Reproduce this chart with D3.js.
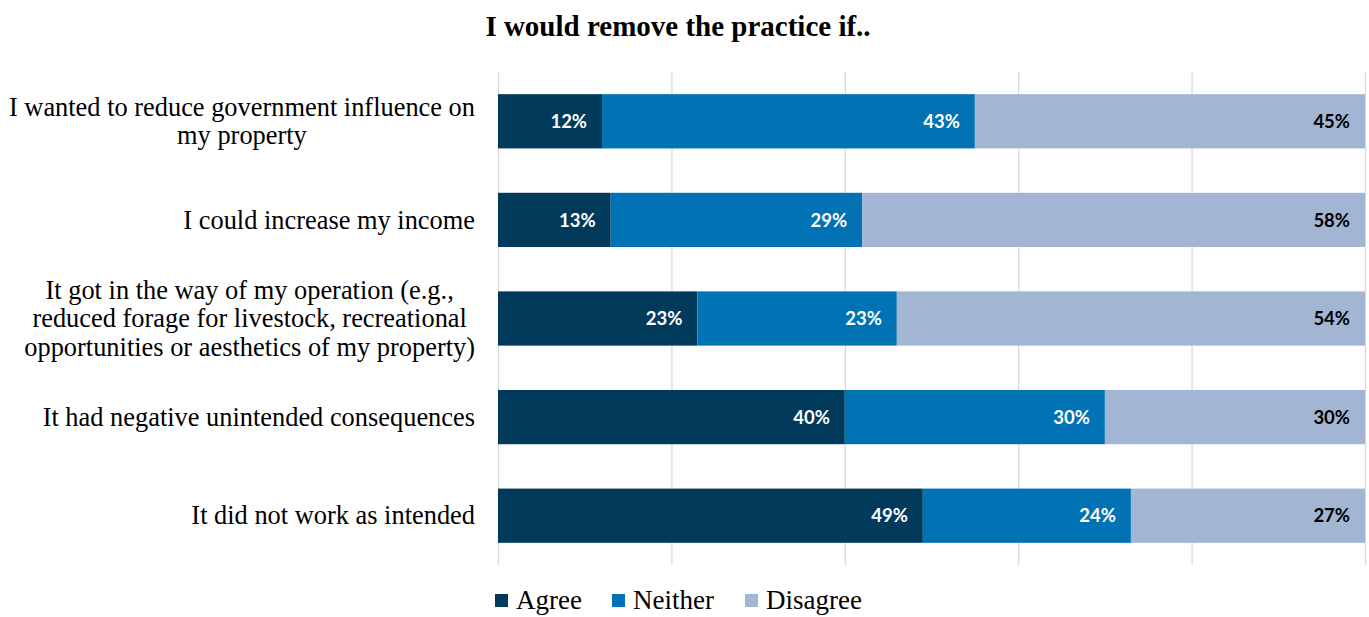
<!DOCTYPE html>
<html>
<head>
<meta charset="utf-8">
<script src="https://cdn.jsdelivr.net/npm/d3@7"></script>
<style>
  html, body { margin: 0; padding: 0; background: #fff; }
  svg { display: block; }
</style>
</head>
<body>
<svg id="chart" width="1369" height="617"></svg>
<script>
// Survey statements (each line of a label is one entry)
const categories = [
  ["I wanted to reduce government influence on", "my property"],
  ["I could increase my income"],
  ["It got in the way of my operation (e.g.,", "reduced forage for livestock, recreational", "opportunities or aesthetics of my property)"],
  ["It had negative unintended consequences"],
  ["It did not work as intended"]
];
const seriesNames = ["Agree", "Neither", "Disagree"];
const agree    = [12, 13, 23, 40, 49];
const neither  = [43, 29, 23, 30, 24];
const disagree = [45, 58, 54, 30, 27];
const xTicks = [0, 20, 40, 60, 80, 100];
const colors = ["#023A5C", "#0172B3", "#A2B6D4"];
const labelColors = ["#ffffff", "#ffffff", "#000000"];

const svg = d3.select("#chart");
const margin = { top: 72, right: 4, bottom: 52, left: 498 };
const W = 1369, H = 617;
const plotW = W - margin.left - margin.right;
const plotH = H - margin.top - margin.bottom;

const rows = categories.map((c, i) => ({
  key: i, lines: c, Agree: agree[i], Neither: neither[i], Disagree: disagree[i]
}));

const x = d3.scaleLinear().domain([0, 100]).range([0, plotW]);
const y = d3.scaleBand().domain(rows.map(d => d.key)).range([0, plotH])
  .paddingInner(0.45).paddingOuter(0.225);

const g = svg.append("g").attr("transform", `translate(${margin.left},${margin.top})`);

const serif = "'Liberation Serif', 'Times New Roman', serif";

// Title
svg.append("text")
  .attr("x", 678).attr("y", 36)
  .attr("text-anchor", "middle")
  .style("font-family", serif)
  .style("font-weight", "bold")
  .style("font-size", "29px")
  .text("I would remove the practice if..");

// Vertical gridlines
const xAxis = d3.axisBottom(x).tickValues(xTicks).tickSize(-plotH).tickFormat("");
const gx = g.append("g").attr("transform", `translate(0,${plotH})`).call(xAxis);
gx.select(".domain").remove();
gx.selectAll(".tick line").attr("stroke", "#d9d9d9").attr("stroke-width", 1.3);

// Stacked bars
const stack = d3.stack().keys(seriesNames);
const layers = stack(rows);

const layerG = g.selectAll(".layer").data(layers).enter().append("g")
  .attr("class", "layer")
  .attr("fill", (d, i) => colors[i]);

layerG.selectAll("rect").data(d => d).enter().append("rect")
  .attr("x", d => x(d[0]))
  .attr("y", d => y(d.data.key))
  .attr("width", d => x(d[1]) - x(d[0]))
  .attr("height", y.bandwidth());

// Value labels at the inner end of each segment
layerG.each(function(layer, li) {
  d3.select(this).selectAll("text").data(layer).enter().append("text")
    .attr("x", d => x(d[1]) - 15)
    .attr("y", d => y(d.data.key) + y.bandwidth() / 2)
    .attr("dy", "0.36em")
    .attr("text-anchor", "end")
    .attr("fill", labelColors[li])
    .style("font-family", "Lato, 'Open Sans', sans-serif")
    .style("font-weight", "bold")
    .style("font-size", "18.5px")
    .text(d => `${d.data[layer.key]}%`);
});

// Category labels, centred as a block, right edge at the axis
const labelRight = 475;
const lineH = 28.5;
const labelG = svg.append("g")
  .style("font-family", serif)
  .style("font-size", "26.4px")
  .attr("fill", "#000");

rows.forEach(r => {
  const t = labelG.append("text").attr("text-anchor", "middle");
  const cy = margin.top + y(r.key) + y.bandwidth() / 2;
  const n = r.lines.length;
  r.lines.forEach((ln, j) => {
    t.append("tspan")
      .attr("y", cy + (j - (n - 1) / 2) * lineH)
      .attr("dy", "0.33em")
      .text(ln);
  });
  let maxW = 0;
  t.selectAll("tspan").each(function() {
    maxW = Math.max(maxW, this.getComputedTextLength());
  });
  t.selectAll("tspan").attr("x", labelRight - maxW / 2);
});

// Legend
const legendItems = [
  { name: "Agree", x: 495 },
  { name: "Neither", x: 612 },
  { name: "Disagree", x: 745 }
];
const lg = svg.append("g");
legendItems.forEach((it, i) => {
  lg.append("rect")
    .attr("x", it.x).attr("y", 594)
    .attr("width", 13).attr("height", 13)
    .attr("fill", colors[i]);
  lg.append("text")
    .attr("x", it.x + 21).attr("y", 609)
    .style("font-family", serif)
    .style("font-size", "27px")
    .text(seriesNames[i]);
});
</script>
</body>
</html>
